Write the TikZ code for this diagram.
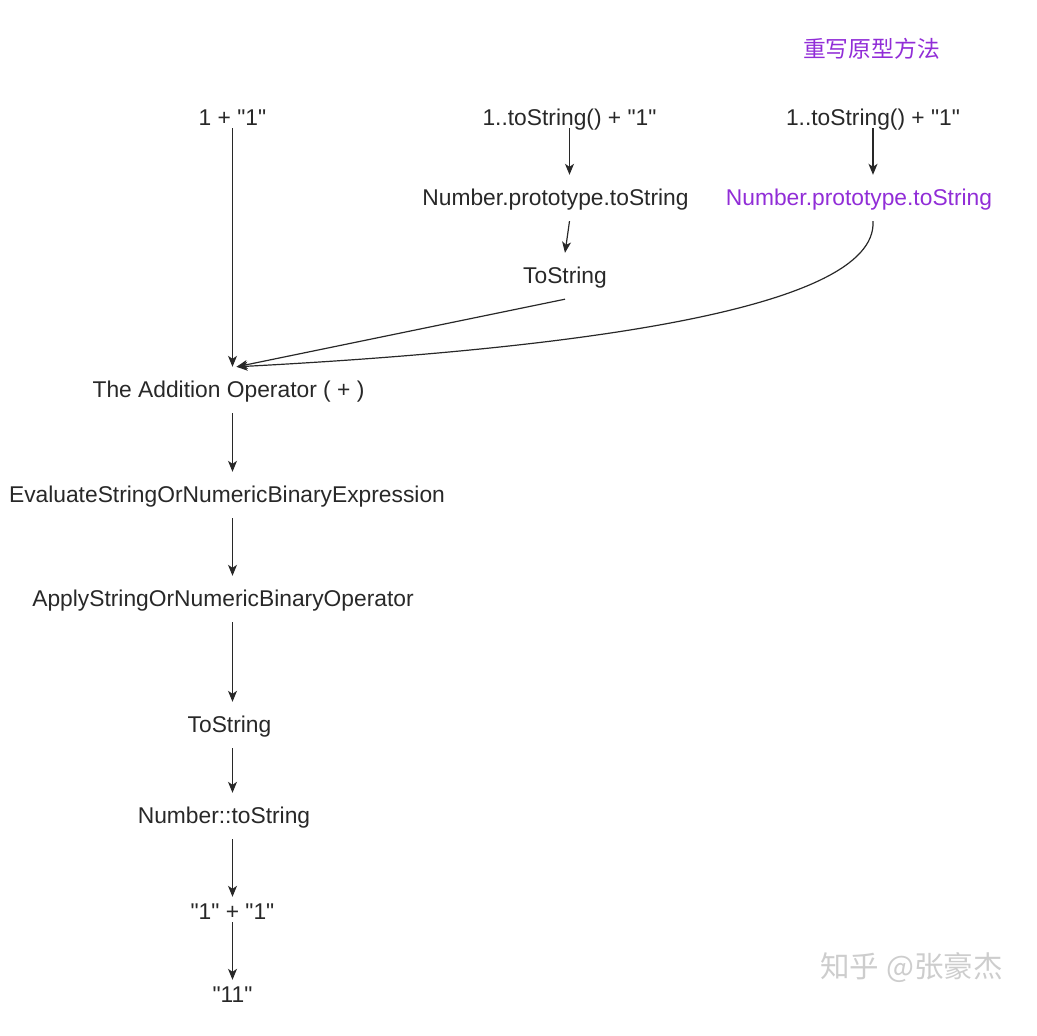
\documentclass[tikz,border=0pt]{standalone}
\usepackage{fontspec}
\setmainfont{Liberation Sans}[Ligatures=TeXOff]
\newfontfamily\cjkfont{Noto Sans CJK SC}
\usetikzlibrary{arrows.meta, positioning, calc}
\definecolor{ink}{RGB}{40,40,40}
\definecolor{protoviolet}{RGB}{145,45,215}
\definecolor{watergray}{RGB}{205,205,205}
\tikzset{
    %Define standard arrow tip
    >={Stealth[length=11pt,width=9pt,inset=3pt]},
    %Define style for the text steps
    stage/.style={
           inner sep=0pt,
           anchor=base,
           text height=30pt,
           text depth=16pt,
           text=ink,
           font=\fontsize{22.8}{27}\selectfont},
    % steps written with quotes
    quoted/.style={
           text height=22pt,
           text depth=3pt},
    % Define arrow style
    flow/.style={
           ->,
           line width=1.2pt,
           draw=ink}
}

\begin{document}
\begin{tikzpicture}[x=1pt, y=-1pt]
	\useasboundingbox (0,0) rectangle (1037,1036);
	%
	% nodes
	%
	\node[stage, quoted] (plain) at (232.5,125) {1 + "1"};
	\node[stage, quoted] (top1) at (569.5,125) {1..toString() + "1"};
	\node[stage, quoted] (top2) at (873,125) {1..toString() + "1"};
	\node[stage, text=protoviolet, font=\cjkfont\fontsize{22.8}{27}\selectfont] (title) at (871.5,57) {重写原型方法};
	\node[stage] (proto1) at (555.5,205) {Number.prototype.toString};
	\node[stage, text=protoviolet] (proto2) at (859,205) {Number.prototype.toString};
	\node[stage] (tostr1) at (565,283) {ToString};
	\node[stage] (add) at (228.5,397) {The Addition Operator ( + )};
	\node[stage] (eval) at (227,502) {EvaluateStringOrNumericBinaryExpression};
	\node[stage] (apply) at (223,606) {ApplyStringOrNumericBinaryOperator};
	\node[stage] (tostr2) at (229.5,732) {ToString};
	\node[stage] (numstr) at (224,823) {Number::toString};
	\node[stage, quoted] (sum) at (232.5,919) {"1" + "1"};
	\node[stage, quoted] (result) at (232.5,1002) {"11"};
	\node[anchor=base, text=watergray, font=\cjkfont\fontsize{29.5}{31}\selectfont] (mark) at (911.5,977) {知乎 @张豪杰};
	\coordinate (meet) at ([xshift=8pt]add.north);
	%
	% links
	%
	\draw[flow] (plain.south) -- (plain.south |- add.north);
	\draw[flow] (top1.south) -- (top1.south |- proto1.north);
	\draw[flow] (proto1.south -| top1.south) -- (tostr1.north);
	\draw[flow] (tostr1.south) -- (meet);
	\draw[flow] (top2.south) -- (top2.south |- proto2.north);
	\draw[flow] (proto2.south -| top2.south) .. controls +(5,90) and +(324,-17) .. (meet);
	\draw[flow] (add.south -| plain) -- (eval.north -| plain);
	\draw[flow] (eval.south -| plain) -- (apply.north -| plain);
	\draw[flow] (apply.south -| plain) -- (tostr2.north -| plain);
	\draw[flow] (tostr2.south -| plain) -- (numstr.north -| plain);
	\draw[flow] (numstr.south -| plain) -- (sum.north -| plain);
	\draw[flow] (sum.south -| plain) -- (result.north -| plain);
\end{tikzpicture}
\end{document}
